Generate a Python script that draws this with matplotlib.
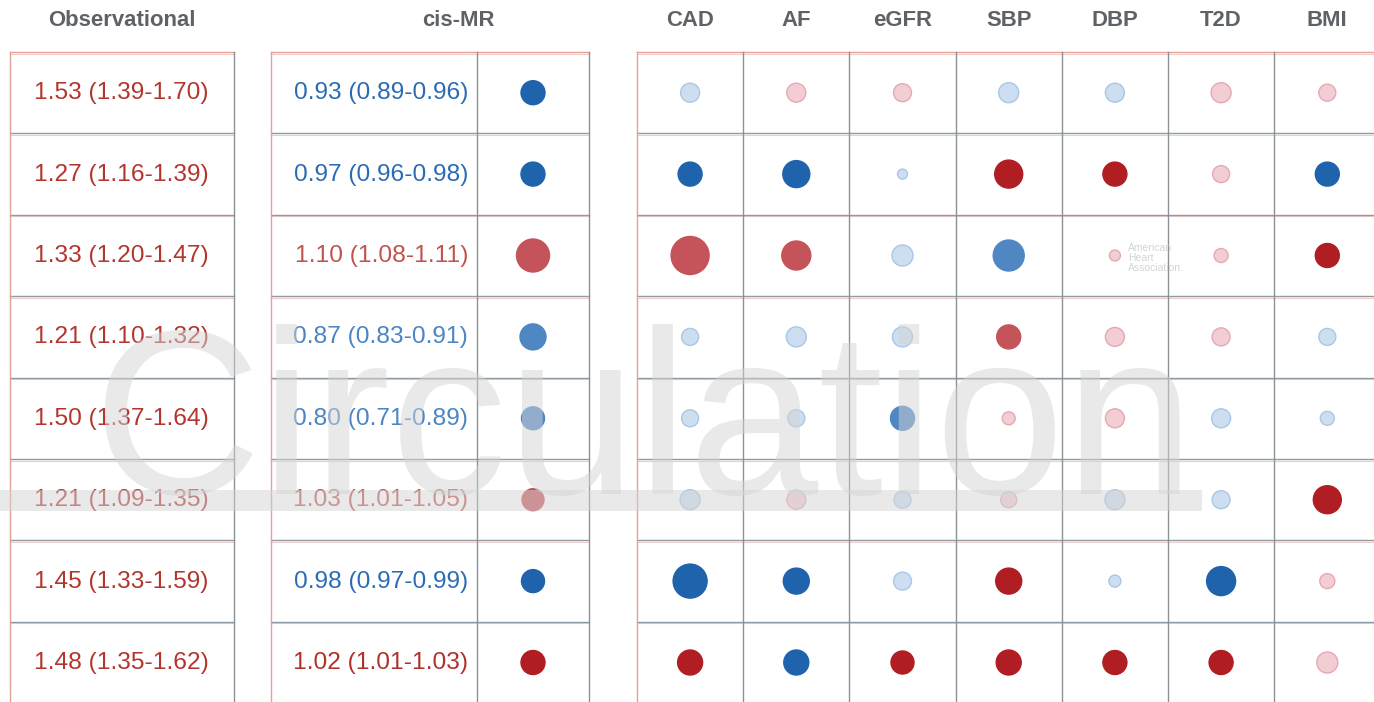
import numpy as np
import matplotlib
matplotlib.use('Agg')
import matplotlib.pyplot as plt
from matplotlib import font_manager
from matplotlib.patches import Rectangle

#%% data
outcomes = ['CAD', 'AF', 'eGFR', 'SBP', 'DBP', 'T2D', 'BMI']

obs_or = [1.53, 1.27, 1.33, 1.21, 1.50, 1.21, 1.45, 1.48]
obs_lo = [1.39, 1.16, 1.20, 1.10, 1.37, 1.09, 1.33, 1.35]
obs_hi = [1.70, 1.39, 1.47, 1.32, 1.64, 1.35, 1.59, 1.62]

mr_or = [0.93, 0.97, 1.10, 0.87, 0.80, 1.03, 0.98, 1.02]
mr_lo = [0.89, 0.96, 1.08, 0.83, 0.71, 1.01, 0.97, 1.01]
mr_hi = [0.96, 0.98, 1.11, 0.91, 0.89, 1.05, 0.99, 1.03]
# direction / strength of the cis-MR estimate (-3 strong inverse ... +3 strong positive)
mr_level = [-3, -3, 2, -2, -2, 2, -3, 3]
mr_mag = [24, 24, 33, 26, 23, 22, 23, 24]

# association with each outcome, same coding
heat_level = [
    [-1,  1,  1, -1, -1,  1,  1],
    [-3, -3, -1,  3,  3,  1, -3],
    [ 2,  2, -1, -2,  1,  1,  3],
    [-1, -1, -1,  2,  1,  1, -1],
    [-1, -1, -2,  1,  1, -1, -1],
    [-1,  1, -1,  1, -1, -1,  3],
    [-3, -3, -1,  3, -1, -3,  1],
    [ 3, -3,  3,  3,  3,  3,  1],
]
heat_mag = [
    [19, 19, 18, 20, 19, 20, 17],
    [24, 27, 10, 28, 24, 17, 24],
    [38, 29, 21, 31, 11, 14, 24],
    [17, 20, 20, 24, 19, 18, 17],
    [17, 17, 24, 13, 19, 19, 14],
    [20, 19, 17, 16, 20, 18, 28],
    [34, 26, 18, 26, 12, 29, 15],
    [25, 25, 23, 25, 24, 24, 21],
]

#%% styles
face = {3: '#b01e24', 2: '#c4535a', 1: '#f2cdd3',
        -1: '#cddef0', -2: '#4f87c3', -3: '#1f63ad'}
edge = {3: '#b01e24', 2: '#c4535a', 1: '#e3aab4',
        -1: '#a9c7e6', -2: '#4f87c3', -3: '#1f63ad'}
txtcol = {3: '#b0302a', 2: '#bf5350', 1: '#bf5350',
          -1: '#4f87c3', -2: '#4a85c4', -3: '#2a6cb4'}
OBS_COL = '#b2362e'
HEAD_COL = '#5e6266'

names = {f.name for f in font_manager.fontManager.ttflist}
if 'Liberation Sans Narrow' in names:
    FAM, k = 'Liberation Sans Narrow', 1.0
else:
    FAM, k = 'Liberation Sans', 0.84

W, H = 1374, 702
TOP, RH, NR = 52, 81.4, 8
yc = [TOP + RH * (i + 0.5) for i in range(NR)]
ybounds = [TOP + RH * i for i in range(NR + 1)]

obs_x = (10, 234)
mr_x = (271, 477, 589)
heat_x0, CW = 637, 106.2
heat_cols = [heat_x0 + CW * (j + 0.5) for j in range(len(outcomes))]

fig = plt.figure(figsize=(W / 100, H / 100), dpi=100)
ax = fig.add_axes([0, 0, 1, 1])
ax.set_xlim(0, W)
ax.set_ylim(H, 0)
ax.axis('off')

# table lines
GRID = '#8d9ca4'
PINK = '#f1cdc8'
RED = '#e2a298'
for (x0, x1) in [(obs_x[0], obs_x[1]), (mr_x[0], mr_x[2]), (heat_x0, W + 10)]:
    for i, yb in enumerate(ybounds):
        ax.plot([x0, x1], [yb, yb], color=RED if i == 0 else GRID, lw=1.0, zorder=1)
        ax.plot([x0, x1], [yb + 1.5, yb + 1.5], color=PINK, lw=0.8, zorder=0.9)
for xv in [obs_x[0], obs_x[1], mr_x[0], mr_x[1], mr_x[2]] + \
        [heat_x0 + CW * j for j in range(len(outcomes) + 1)]:
    col = RED if xv in (obs_x[0], mr_x[0], heat_x0) else '#8a9197'
    ax.plot([xv, xv], [TOP, H + 5], color=col, lw=1.0, zorder=1)

# headers
hkw = dict(fontsize=19 * k, fontweight='bold', color=HEAD_COL, family=FAM,
           ha='center', va='center')
ax.text(122, 21, 'Observational', **hkw)
ax.text(458, 21, 'cis-MR', **hkw)
for j, name in enumerate(outcomes):
    ax.text(heat_cols[j], 21, name, **hkw)

# observational + cis-MR text
for i in range(NR):
    ax.text(121, yc[i] + 0.5, f'{obs_or[i]:.2f} ({obs_lo[i]:.2f}-{obs_hi[i]:.2f})',
            fontsize=21 * k, color=OBS_COL, family=FAM, ha='center', va='center', zorder=3)
    ax.text(468, yc[i] + 0.5, f'{mr_or[i]:.2f} ({mr_lo[i]:.2f}-{mr_hi[i]:.2f})',
            fontsize=21 * k, color=txtcol[mr_level[i]], family=FAM,
            ha='right', va='center', zorder=3)

# cis-MR dots
mx = (mr_x[1] + mr_x[2]) / 2
ax.scatter([mx] * NR, yc, s=[(m * 0.72) ** 2 for m in mr_mag],
           c=[face[l] for l in mr_level], edgecolors=[edge[l] for l in mr_level],
           linewidths=1.0, zorder=3)

# outcome dots
xs, ys, ss, fc, ec = [], [], [], [], []
for i in range(NR):
    for j in range(len(outcomes)):
        xs.append(heat_cols[j])
        ys.append(yc[i])
        ss.append((heat_mag[i][j] * 0.72) ** 2)
        fc.append(face[heat_level[i][j]])
        ec.append(edge[heat_level[i][j]])
ax.scatter(xs, ys, s=ss, c=fc, edgecolors=ec, linewidths=1.0, zorder=3)

# watermark
ax.text(92, 494, 'Circulation', fontsize=168, family='Liberation Sans', color='#d4d4d4',
        alpha=0.5, ha='left', va='baseline', zorder=10)
ax.add_patch(Rectangle((0, 490), 1202, 21, fc='#d4d4d4', ec='none', alpha=0.5, zorder=10))
ax.text(1128, 258, 'American\nHeart\nAssociation.', fontsize=7.5, color='#d4d4d4',
        family='Liberation Sans', ha='left', va='center', linespacing=0.95, zorder=10)

fig.savefig('out.png', dpi=100, facecolor='white')
